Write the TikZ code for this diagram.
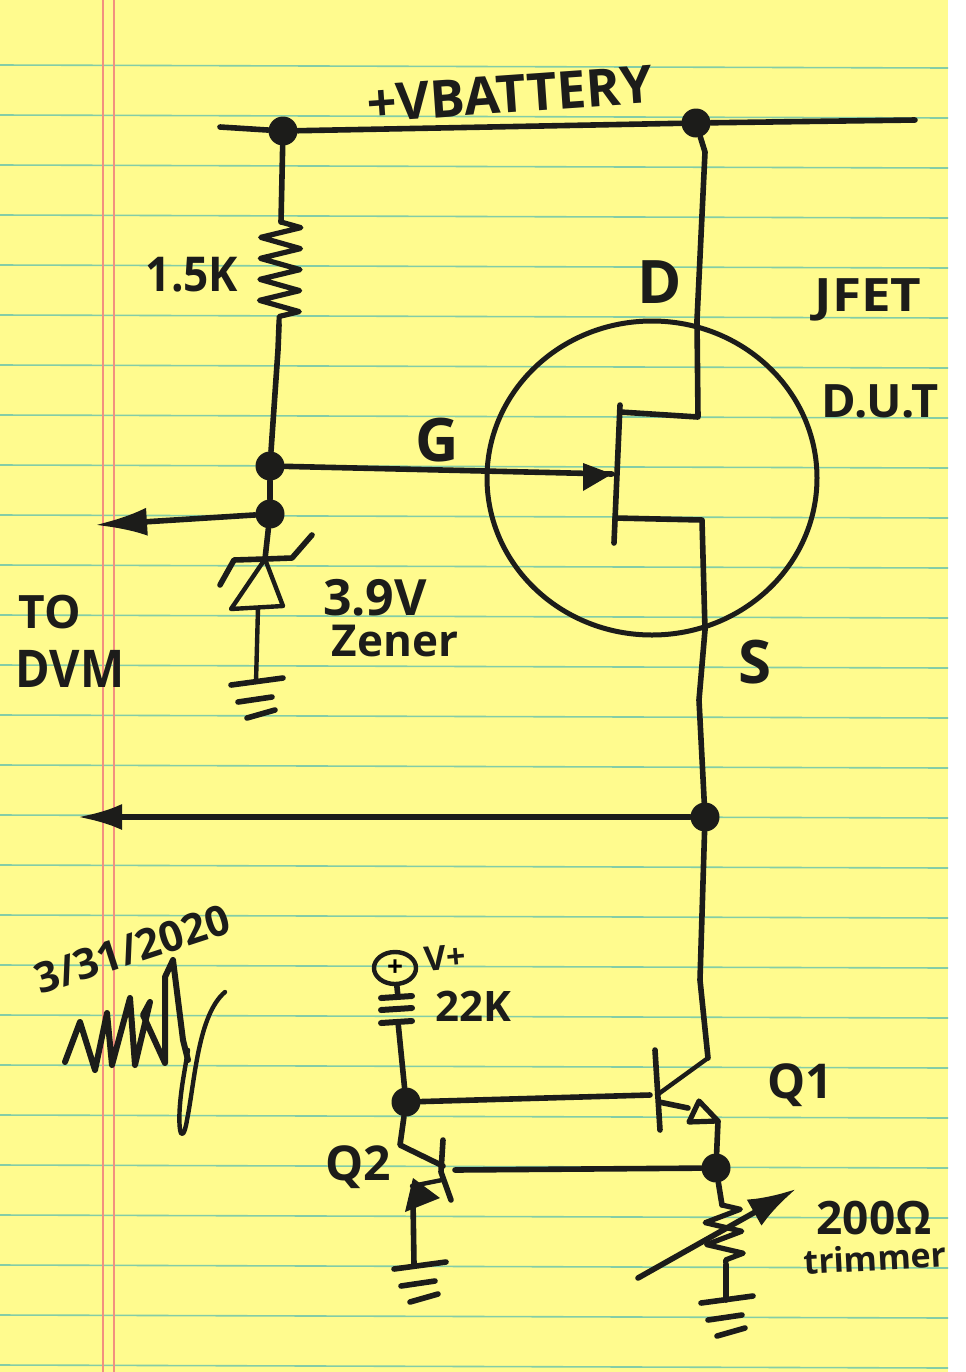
\documentclass[tikz,border=0pt]{standalone}
\usepackage{fontspec}
\setmainfont{Open Sans}
\usetikzlibrary{arrows.meta,decorations.pathmorphing,shapes.geometric}
\definecolor{paper}{HTML}{FFFB8E}
\definecolor{ink}{HTML}{1C1C1A}
\definecolor{rulecol}{HTML}{84CDA6}
\definecolor{margincol}{HTML}{F2907F}
\tikzset{gnd/.pic={
	\draw[wire] (-25,3) -- (27,-4);
	\draw[wire] (-18,20) -- (16,15);
	\draw[wire] (-9,36) -- (19,28);}}
\begin{document}
\begin{tikzpicture}[x=0.5pt,y=-0.5pt,
	wire/.style={draw=ink,line width=2.8pt,line cap=round,line join=round},
	thinwire/.style={wire,line width=2.2pt},
	junction/.style={circle,fill=ink,minimum size=14.5pt,inner sep=0},
	resistor/.style={wire,line width=2.6pt,decorate,decoration={zigzag,segment length=10.5pt,amplitude=10pt}},
	hand/.style={text=ink,inner sep=0,font=\fontsize{#1}{#1}\selectfont\bfseries}]
\useasboundingbox (0,0) rectangle (965,1372);
\fill[paper] (0,0) rectangle (948,1372);
% ruled paper
\foreach \y in {65,115,...,1365}
	\draw[rulecol,line width=0.8pt] (0,\y) -- (948,\y+3);
\draw[margincol,line width=1.1pt] (103,0) -- (103,1372);
\draw[margincol,line width=1.1pt] (114,0) -- (114,1372);
% junctions
\node[junction] (jtopl) at (283,131) {};
\node[junction] (jtopr) at (696,123) {};
\node[junction] (jgate) at (270,466) {};
\node[junction] (jdvm) at (270,514) {};
\node[junction] (jsrc) at (705,817) {};
\node[junction] (jbase) at (406,1102) {};
\node[junction] (jemit) at (716,1168) {};
% free ends and bends
\coordinate (raill) at (220,127);
\coordinate (railr) at (915,120);
\coordinate (r1a) at (281,222);
\coordinate (r1b) at (279,325);
\coordinate (dvmend) at (95,525);
\coordinate (srcend) at (78,817);
\coordinate (ztop) at (265,559);
\coordinate (zbot) at (258,608);
\coordinate (gnd1) at (256,682);
\coordinate (gatetip) at (612,474);
\coordinate (draintee) at (698,417);
\coordinate (drainbar) at (620,412);
\coordinate (srctee) at (702,520);
\coordinate (srcbar) at (615,518);
\coordinate (q1c) at (708,1058);
\coordinate (q1bar) at (657,1095);
\coordinate (q1e) at (659,1102);
\coordinate (q1tip) at (718,1121);
\coordinate (q2bar) at (443,1166);
\coordinate (q2tip) at (412,1186);
\coordinate (q2b) at (455,1170);
\coordinate (gnd2) at (414,1264);
\coordinate (r2a) at (722,1205);
\coordinate (r2b) at (726,1265);
\coordinate (gnd3) at (726,1300);
% jfet circle
\node[ellipse,draw=ink,line width=2.5pt,minimum width=165pt,minimum height=157pt,inner sep=0] (dut) at (652,478) {};
% top rail
\draw[wire] (raill) -- (jtopl);
\draw[wire] (jtopl) -- (jtopr);
\draw[wire] (jtopr) -- (railr);
% gate side
\draw[wire] (jtopl) -- (r1a);
\draw[resistor] (r1a) -- (r1b);
\draw[wire] (r1b) -- (278,350) -- (jgate);
\draw[wire] (jgate) -- (jdvm);
\draw[wire,-{Latex[length=26pt,width=14pt]}] (jdvm) -- (dvmend);
\draw[wire] (jgate) -- (gatetip);
\fill[ink] (gatetip) -- (583,463) -- (583,491) -- cycle;
% zener
\draw[wire] (jdvm) -- (ztop);
\draw[wire] (312,535) -- (292,558) -- (ztop) -- (234,560) -- (220,585);
\draw[thinwire] (ztop) -- (283,606) -- (231,609) -- cycle;
\draw[thinwire] (zbot) -- (gnd1);
\pic at (gnd1) {gnd};
% jfet
\draw[wire] (620,405) -- (614,543);
\draw[wire] (drainbar) -- (draintee) -- (697,320) -- (705,152) -- (jtopr);
\draw[wire] (srcbar) -- (srctee) -- (705,630) -- (699,700) -- (jsrc);
\draw[wire,-{Latex[length=22pt,width=13pt]}] (jsrc) -- (srcend);
% q1
\draw[wire] (jsrc) -- (700,980) -- (q1c);
\draw[thinwire] (q1c) -- (q1bar);
\draw[wire] (655,1050) -- (660,1130);
\draw[wire] (jbase) -- (650,1095);
\draw[wire] (q1e) -- (688,1108);
\draw[wire,line width=2.6pt,fill=paper] (q1tip) -- (699,1101) -- (689,1122) -- cycle;
\draw[wire] (q1tip) -- (jemit);
% q2
\draw[wire] (jbase) -- (400,1145) -- (q2bar);
\draw[wire] (443,1140) -- (441,1172) -- (451,1200);
\draw[wire] (jemit) -- (q2b);
\draw[thinwire] (442,1180) -- (q2tip);
\fill[ink] (413,1178) -- (405,1212) -- (440,1198) -- cycle;
\draw[wire] (413,1200) -- (gnd2);
\pic at (419,1266) {gnd};
% v+ and 22k
\node[ellipse,draw=ink,line width=2.2pt,minimum width=21pt,minimum height=16pt,inner sep=0,font=\fontsize{14}{14}\selectfont\bfseries] (vplus) at (395,968) {+};
\foreach \y in {997,1009,1022}
	\draw[wire,line width=3pt] (381,\y+1) -- (412,\y-1);
\draw[wire] (vplus) -- (398,997);
\draw[wire] (398,1022) -- (jbase);
% trimmer
\draw[wire] (jemit) -- (r2a);
\draw[resistor,decoration={segment length=11pt,amplitude=9pt}] (r2a) -- (r2b);
\draw[wire] (r2b) -- (gnd3);
\pic at (gnd3) {gnd};
\draw[wire,-{Latex[length=24pt,width=15pt]}] (638,1278) -- (796,1189);
% signature
\draw[wire,line width=3pt] (65,1062) -- (80,1022) -- (95,1070) -- (107,1013) -- (112,1065) -- (130,998) -- (135,1065) -- (150,1002) -- (143,1015) -- (165,1063) -- (165,977) -- (173,960) -- (183,1040) -- (188,1060);
\draw[thinwire] (225,992) .. controls (198,1015) and (195,1080) .. (187,1120) .. controls (182,1150) and (175,1130) .. (183,1080) -- (188,1050);
% labels
\node[hand=26,rotate=4] (batt) at (510,94) {+VBATTERY};
\node[hand=24,xscale=0.92] (r1val) at (192,275) {1.5K};
\node[hand=30] (glab) at (437,440) {G};
\node[hand=30] (dlab) at (660,282) {D};
\node[hand=30] (slab) at (755,662) {S};
\node[hand=23,xscale=1.15] (jfet) at (868,300) {JFET};
\node[hand=23,xscale=1.02] (dutlab) at (880,401) {D.U.T};
\node[hand=23] (tolab) at (50,612) {TO};
\node[hand=26,xscale=0.9] (dvmlab) at (70,669) {DVM};
\node[hand=25] (zv) at (375,598) {3.9V};
\node[hand=22] (zen) at (395,641) {Zener};
\node[hand=21,rotate=18] (date) at (132,949) {3/31/2020};
\node[hand=17,rotate=5] (vlab) at (445,958) {V+};
\node[hand=21] (kval) at (473,1006) {22K};
\node[hand=24] (qone) at (800,1085) {Q1};
\node[hand=24] (qtwo) at (358,1167) {Q2};
\node[hand=23] (ohm) at (874,1218) {200Ω};
\node[hand=17,rotate=3] (trim) at (875,1258) {trimmer};
\end{tikzpicture}
\end{document}
